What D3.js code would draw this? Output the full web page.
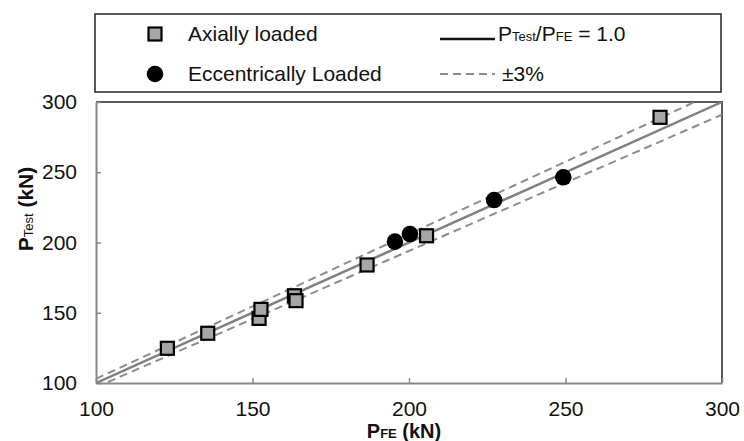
<!DOCTYPE html>
<html>
<head>
<meta charset="utf-8">
<script src="https://cdn.jsdelivr.net/npm/d3@7"></script>
<style>
  body { margin: 0; background: #fff; }
  svg text { font-family: "Liberation Sans", Arial, sans-serif; fill: #111; }
</style>
</head>
<body>
<div class="container"></div>
<script>
const w = 744
const h = 441
const margin = { left: 96, right: 22, top: 102, bottom: 58 }

// data (kN)
const axialFE   = [122.8, 135.7, 152.1, 152.7, 163.4, 163.9, 186.6, 205.6, 280.2]
const axialTest = [124.7, 135.4, 146.0, 152.4, 162.1, 158.6, 184.0, 204.8, 289.1]
const eccFE     = [195.5, 200.3, 227.2, 249.3]
const eccTest   = [200.6, 206.0, 230.2, 246.4]
const ticks = [100, 150, 200, 250, 300]
const lineX = [100, 300]

const svg = d3.select('.container')
    .append('svg')
    .attr('width', w)
    .attr('height', h)

const xScale = d3.scaleLinear()
    .domain([100, 300])
    .range([margin.left, w - margin.right])
const yScale = d3.scaleLinear()
    .domain([100, 300])
    .range([h - margin.bottom, margin.top])

svg.append('clipPath').attr('id', 'plotClip')
    .append('rect')
    .attr('x', margin.left).attr('y', margin.top)
    .attr('width', w - margin.left - margin.right)
    .attr('height', h - margin.top - margin.bottom)

// plot frame top / right
svg.append('path')
    .attr('d', `M${xScale(100)},${yScale(300)}H${xScale(300)}V${yScale(100)}`)
    .attr('fill', 'none')
    .attr('stroke', '#222')
    .attr('stroke-width', 1.5)

// axes
const xAxis = d3.axisBottom(xScale).tickValues(ticks).tickSizeInner(-5).tickSizeOuter(0).tickPadding(18)
const gx = svg.append('g')
    .attr('transform', `translate(0, ${h - margin.bottom})`)
    .call(xAxis)
const yAxis = d3.axisLeft(yScale).tickValues(ticks).tickSizeInner(-5).tickSizeOuter(0).tickPadding(19)
const gy = svg.append('g')
    .attr('transform', `translate(${margin.left}, 0)`)
    .call(yAxis)

;[gx, gy].forEach(g => {
    g.select('.domain').attr('stroke', '#888').attr('stroke-width', 2)
    g.selectAll('.tick line').attr('stroke', '#888').attr('stroke-width', 1.5)
    g.selectAll('.tick text')
        .style('font-size', '21px')
        .style('font-family', '"Liberation Sans", Arial, sans-serif')
        .attr('fill', '#111')
})

// reference lines
const line = k => d3.line()
    .x(d => xScale(d))
    .y(d => yScale(d * k))

const refs = svg.append('g').attr('clip-path', 'url(#plotClip)')
refs.append('path').datum(lineX)
    .attr('d', line(1.0))
    .attr('fill', 'none').attr('stroke', '#808080').attr('stroke-width', 2.5)
;[1.03, 0.97].forEach(k => {
    refs.append('path').datum(lineX)
        .attr('d', line(k))
        .attr('fill', 'none').attr('stroke', '#8c8c8c').attr('stroke-width', 2)
        .attr('stroke-dasharray', '8,5')
})

// markers
const sq = 13
svg.selectAll('rect.axial')
    .data(axialFE)
    .enter()
    .append('rect')
    .attr('class', 'axial')
    .attr('x', d => xScale(d) - sq / 2)
    .attr('y', (d, i) => yScale(axialTest[i]) - sq / 2)
    .attr('width', sq).attr('height', sq)
    .attr('fill', '#a6a6a6').attr('stroke', '#000').attr('stroke-width', 2.2)

svg.selectAll('circle.ecc')
    .data(eccFE)
    .enter()
    .append('circle')
    .attr('class', 'ecc')
    .attr('cx', d => xScale(d))
    .attr('cy', (d, i) => yScale(eccTest[i]))
    .attr('r', 8.3)
    .attr('fill', '#000')

// axis titles
const xt = svg.append('text')
    .attr('x', 404).attr('y', 438)
    .attr('text-anchor', 'middle')
    .style('font-size', '20px').style('font-weight', 'bold')
xt.append('tspan').text('P')
xt.append('tspan').text('FE').style('font-size', '13px')
xt.append('tspan').text(' (kN)')

const yt = svg.append('text')
    .attr('transform', 'translate(33, 209) rotate(-90)')
    .attr('text-anchor', 'middle')
    .style('font-size', '21px').style('font-weight', 'bold')
yt.append('tspan').text('P')
yt.append('tspan').text('Test').style('font-size', '13px').style('font-weight', 'normal')
yt.append('tspan').text(' (kN)')

// legend
const leg = svg.append('g')
leg.append('rect')
    .attr('x', 95).attr('y', 14)
    .attr('width', 626).attr('height', 78)
    .attr('fill', '#fff').attr('stroke', '#222').attr('stroke-width', 1.5)

leg.append('rect')
    .attr('x', 155 - sq / 2).attr('y', 34 - sq / 2)
    .attr('width', sq).attr('height', sq)
    .attr('fill', '#a6a6a6').attr('stroke', '#000').attr('stroke-width', 2.2)
leg.append('text').attr('x', 188).attr('y', 41).style('font-size', '21px').text('Axially loaded')

leg.append('circle').attr('cx', 155).attr('cy', 74).attr('r', 8.3).attr('fill', '#000')
leg.append('text').attr('x', 188).attr('y', 81).style('font-size', '21px').text('Eccentrically Loaded')

leg.append('line')
    .attr('x1', 440).attr('x2', 495).attr('y1', 39).attr('y2', 39)
    .attr('stroke', '#111').attr('stroke-width', 2.5)
const lt = leg.append('text').attr('x', 498).attr('y', 41).style('font-size', '21px')
lt.append('tspan').text('P')
lt.append('tspan').text('Test').style('font-size', '13px')
lt.append('tspan').text('/P')
lt.append('tspan').text('FE').style('font-size', '13px')
lt.append('tspan').text(' = 1.0')

leg.append('line')
    .attr('x1', 440).attr('x2', 495).attr('y1', 74).attr('y2', 74)
    .attr('stroke', '#8c8c8c').attr('stroke-width', 2)
    .attr('stroke-dasharray', '8,5')
leg.append('text').attr('x', 502).attr('y', 81).style('font-size', '21px').text('±3%')
</script>
</body>
</html>
